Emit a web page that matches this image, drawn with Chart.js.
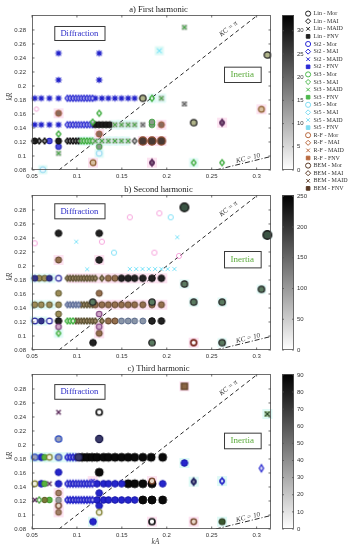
<!DOCTYPE html>
<html><head><meta charset="utf-8">
<script src="https://cdn.jsdelivr.net/npm/chart.js@4.4.0/dist/chart.umd.min.js"></script>
<style>
html,body{margin:0;padding:0;background:#fff;width:357px;height:550px;overflow:hidden;position:relative}
canvas{position:absolute;display:block}
</style></head><body>
<canvas id="pa" width="280" height="180" style="left:0;top:0;width:280px;height:180px"></canvas>
<canvas id="pb" width="280" height="180" style="left:0;top:180px;width:280px;height:180px"></canvas>
<canvas id="pc" width="280" height="190" style="left:0;top:360px;width:280px;height:190px"></canvas>
<canvas id="ca" width="36" height="180" style="left:276px;top:0;width:36px;height:180px"></canvas>
<canvas id="cb" width="36" height="180" style="left:276px;top:180px;width:36px;height:180px"></canvas>
<canvas id="cc" width="36" height="190" style="left:276px;top:360px;width:36px;height:190px"></canvas>
<canvas id="lg" width="57" height="200" style="left:300px;top:0;width:57px;height:200px"></canvas>
<script>
// ---------------- DATA ----------------
const panelTitles = ['a) First harmonic', 'b) Second harmonic', 'c) Third harmonic'];
const methods = ['Lin', 'St2', 'St3', 'St5', 'R-F', 'BEM'];
const measures = ['Mor', 'MAI', 'MAID', 'FNV'];
const xTickValues = [0.05, 0.1, 0.15, 0.2, 0.25, 0.3];
const yTickValues = [0.08, 0.1, 0.12, 0.14, 0.16, 0.18, 0.2, 0.22, 0.24, 0.26, 0.28];
const colorbarMax = [33.4, 252, 90.5];
const colorbarTicksA = [0, 5, 10, 15, 20, 25, 30];
const colorbarTicksB = [0, 50, 100, 150, 200, 250];
const colorbarTicksC = [0, 10, 20, 30, 40, 50, 60, 70, 80, 90];
const kcPiLine = [[0.08, 0.08], [0.3014, 0.3014]];
const kc10Line = [[0.2546, 0.08], [0.316, 0.0993]];

// kR rows of the test matrix and kA columns
const R1 = 0.1215, R2 = 0.1447, R3 = 0.1824;
const xLeft = [0.053, 0.0603, 0.0694, 0.0795];
const xDense = [0.0894, 0.0925, 0.0956, 0.0987, 0.1018, 0.1049, 0.108, 0.1111, 0.1142, 0.1173];
const xMid = [0.1205, 0.1277, 0.135, 0.1423, 0.1496, 0.157, 0.1642];
const xRight = [0.1733, 0.1835, 0.194];
const row = (xs, y) => xs.map(x => [x, y]);

// a) first harmonic
const A_st2Star = [...row(xLeft, R3), ...row(xMid, R3), ...row(xLeft, R2), [0.0795, 0.2467], [0.1248, 0.2467], [0.0795, 0.2086], [0.1248, 0.2086]];
const A_st2Theta = [...row(xDense, R3), ...row(xDense, R2)];
const A_st2Dot = [[0.0694, R1], [0.0795, 0.1133]];
const A_linTheta = row([0.058, 0.064, 0.0894, 0.0925, 0.0956, 0.0987, 0.1018], R1);
const A_linDot = [[0.053, R1], [0.0795, R1], ...row([0.1205, 0.1245, 0.1285, 0.1325, 0.1365], R2)];
const A_st3Theta = [...row([0.1049, 0.108, 0.1111, 0.1142, 0.1173], R1), [0.1835, R3], [0.1248, 0.161], [0.0795, 0.1314], [0.1175, 0.1484], [0.2299, 0.0905], [0.2616, 0.0905]];
const A_st3X = [...row([0.1205, 0.1277, 0.135, 0.1423, 0.1496, 0.157], R1), ...row([0.1423, 0.1496, 0.157, 0.1642], R2), [0.194, R3], [0.2196, 0.2838], [0.0795, 0.1038]];
const A_st3Dot = [[0.1835, R2], [0.1248, 0.1133], [0.1835, 0.1484]];
const A_grayX = [[0.1733, R2], [0.2196, 0.1743]];
const A_grayTheta = [[0.1642, R1]];
const A_darkRing = [[0.1733, R3], [0.3119, 0.2443], [0.2299, 0.1476]];
const A_rfBig = row(xRight, R1);
const A_rfDot = [[0.194, R2], [0.0795, 0.161], [0.1248, 0.1314]];
const A_rfRing = [[0.1179, 0.0905], [0.3053, 0.1667]];
const A_bemTheta = [[0.2616, 0.1476], [0.1835, 0.0905]];
const A_st5X = [[0.1917, 0.2504]];
const A_st5Ring = [[0.1248, 0.1038], [0.062, 0.0805]];
const A_faintPink = [[0.055, 0.167]];
const A_pinkHalo = [[0.0795, 0.161], [0.1248, 0.1314], ...row(xRight, R1), [0.194, R2], [0.1179, 0.0905], [0.1835, 0.0905], [0.3053, 0.1667], [0.2616, 0.1476]];
const A_cyanHalo = [[0.1248, 0.1038], [0.2299, 0.0905], [0.1917, 0.2504], [0.062, 0.0805], ...row([0.105, 0.112, 0.119, 0.126, 0.133, 0.14, 0.147, 0.154], R1), ...row([0.1423, 0.1496, 0.157, 0.1642], R2), ...row([0.1835, 0.194], R3)];

// b) second harmonic
const B_oliveDot = [...row([0.058, 0.064], R3), ...row([0.053, 0.0603, 0.0694, 0.0795], R2), [0.0795, 0.161], [0.0795, 0.1314]];
const B_blueRing = [[0.0795, R3], [0.053, R1], [0.0694, R1]];
const B_blueDot = [[0.053, R3], [0.0694, R3], [0.0603, R1]];
const B_oliveTheta = [...row(xDense, R3), ...row([0.1205, 0.1277], R3), ...row([0.1049, 0.108, 0.1111, 0.1142, 0.1173], R2), ...row([0.0987, 0.1018, 0.1049, 0.108, 0.1111, 0.1142, 0.1173, 0.1205, 0.1277], R1)];
const B_grayBlueTheta = row([0.0894, 0.0925, 0.0956, 0.0987, 0.1018], R2);
const B_greenTheta = [...row([0.0894, 0.0925, 0.0956], R1), [0.0795, 0.1038]];
const B_brownDot = [...row([0.135, 0.1423], R3), ...row(xMid, R2), ...row(xRight, R2), ...row([0.135, 0.1423], R1), [0.0795, 0.2086], [0.1248, 0.161], [0.1248, 0.1038]];
const B_darkDot = [...row([0.1496, 0.157, 0.1642], R3), ...row(xRight, R3), [0.0795, 0.2467], [0.1248, 0.2467], [0.1835, R1], [0.194, R1], [0.0795, R1], [0.1248, 0.2086], [0.1179, 0.0905]];
const B_grayBlueDot = row([0.1496, 0.157, 0.1642, 0.1733], R1);
const B_darkRingBig = [[0.2196, 0.2838], [0.3119, 0.2443]];
const B_darkRing = [[0.2196, 0.1743], [0.2299, 0.1484], [0.2616, 0.1484], [0.3053, 0.1667], [0.2616, 0.0905], [0.1835, 0.0905], [0.1835, 0.1484], [0.1175, 0.1484]];
const B_redRing = [[0.2299, 0.0905]];
const B_mauveRing = [[0.1248, 0.1314], [0.1248, 0.1133], [0.0795, 0.1133]];
const B_faintX = [...row([0.1589, 0.166, 0.173, 0.18, 0.187, 0.194, 0.201, 0.2085], 0.1957), [0.2117, 0.241], [0.0993, 0.2347], [0.1114, 0.1953]];
const B_faintCyanO = [[0.2044, 0.2696], [0.1413, 0.219]];
const B_faintPinkO = [[0.1917, 0.2753], [0.1589, 0.2696], [0.1278, 0.2347], [0.1862, 0.219], [0.2136, 0.2143], [0.053, 0.2324]];
const B_pinkHalo = [...row([0.095, 0.105, 0.115, 0.125, 0.135, 0.145, 0.155, 0.165, 0.175, 0.185, 0.195], R3), ...row([0.125, 0.135, 0.145, 0.155, 0.165, 0.175, 0.185, 0.195], R2), [0.0795, 0.2086], [0.1248, 0.2086], [0.1248, 0.1133], [0.1248, 0.1038], [0.2299, 0.0905]];
const B_cyanHalo = [...row([0.053, 0.062, 0.071], R3), ...row([0.053, 0.062, 0.071], R2), ...row([0.053, 0.062], R1), [0.0795, 0.1038], [0.2196, 0.1743], [0.2299, 0.1484], [0.2616, 0.1484], [0.3053, 0.1667], [0.2616, 0.0905], [0.3119, 0.2443]];

// c) third harmonic
const C_blackDot = [...row([0.1059, 0.1114, 0.1169, 0.1223, 0.1296, 0.1351, 0.1424, 0.1497, 0.157, 0.1643, 0.1734, 0.1826, 0.1954], R3), ...row([0.157, 0.1643, 0.1734, 0.1835], R2), ...row([0.1734, 0.1835, 0.1954], R1), [0.1248, 0.161]];
const C_blueDot = [...row([0.1223, 0.1296, 0.1351, 0.1424, 0.1497], R2), [0.1954, R2], ...row([0.1223, 0.1296, 0.1351, 0.1424, 0.1497, 0.157, 0.1643], R1), [0.0795, 0.161], [0.1248, 0.1314], [0.0603, R3], [0.0603, R2], [0.0795, R2], [0.1179, 0.0905], [0.2196, 0.1743], [0.1248, 0.1133]];
const C_blueTheta = [...row(xDense, R2), ...row(xDense, R1), ...row([0.0894, 0.0925, 0.0956, 0.0987], R3), [0.2616, 0.1484]];
const C_navyDot = [[0.1248, 0.2086], [0.1018, R3]];
const C_blueDiamond = [[0.3053, 0.1667]];
const C_blueRing = [[0.053, R3], [0.0795, R3], [0.0795, 0.2086]];
const C_greenDot = [[0.064, R3], [0.064, R2], [0.0694, R1]];
const C_oliveRing = [[0.0694, R3], [0.053, R2], [0.1248, 0.1038]];
const C_oliveDot = [[0.064, R1]];
const C_greenTheta = [[0.058, R1]];
const C_purpleX = [[0.0795, 0.2467], [0.0694, R2], [0.053, R1]];
const C_blueX = [[0.1175, 0.1484]];
const C_darkRingWhite = [[0.1248, 0.2467], [0.1835, 0.0905]];
const C_navyTheta = [[0.2299, 0.1476]];
const C_brownDot = [[0.0795, 0.1314], [0.0795, 0.1038]];
const C_brownRing = [[0.0795, 0.1133], [0.2299, 0.0905], [0.1835, 0.1484]];
const C_brownSq = [[0.2196, 0.2838]];
const C_greenX = [[0.3119, 0.2443]];
const C_darkGreenDot = [[0.2616, 0.0905]];
const C_grayDot = [[0.0795, R1]];
const C_cyanHalo = [...row([0.053, 0.061, 0.069, 0.077, 0.085, 0.093], R3), [0.2196, 0.1743], [0.2616, 0.1484], [0.3119, 0.2443], [0.2616, 0.0905], [0.1179, 0.0905], [0.2299, 0.1476]];
const C_pinkHalo = [[0.0795, 0.1314], [0.0795, 0.1133], [0.0795, 0.1038], [0.2196, 0.2838], [0.2299, 0.0905], [0.1835, 0.1484], [0.1835, 0.0905], [0.1175, 0.1484]];

// ---------------- STYLE / DRAWING ----------------
const SANS = '"Liberation Sans", Arial, sans-serif';
const SERIF = '"Liberation Serif", "Times New Roman", serif';
const methodColors = {'Lin': '#222222', 'St2': '#2a2ad6', 'St3': '#4cb84c', 'St5': '#7fdcf2', 'R-F': '#b8683e', 'BEM': '#5a3a26'};

function glyph(kind, edge, fill, r, lw) {
  lw = lw == null ? 1 : lw;
  const s = 2 * Math.ceil(r * 1.3 + lw + 1);
  const c = document.createElement('canvas');
  c.width = s; c.height = s;
  const g = c.getContext('2d');
  const m = s / 2;
  g.lineWidth = lw; g.strokeStyle = edge; g.fillStyle = fill || 'rgba(0,0,0,0)';
  const circ = (rr) => { g.beginPath(); g.arc(m, m, rr, 0, 2 * Math.PI); g.fill(); g.stroke(); };
  const diam = (w, h, doFill) => { g.beginPath(); g.moveTo(m, m - h); g.lineTo(m + w, m); g.lineTo(m, m + h); g.lineTo(m - w, m); g.closePath(); if (doFill) g.fill(); g.stroke(); };
  const cross = (rr) => { g.beginPath(); g.moveTo(m - rr, m - rr); g.lineTo(m + rr, m + rr); g.moveTo(m + rr, m - rr); g.lineTo(m - rr, m + rr); g.stroke(); };
  if (kind === 'o' || kind === 'dot') circ(r);
  else if (kind === 'd') diam(r * 0.8, r * 1.3, true);
  else if (kind === 'theta') { circ(r * 0.8); diam(r * 0.72, r * 1.25, false); }
  else if (kind === 'x') { if (fill) { g.fillRect(m - r, m - r, 2 * r, 2 * r); } cross(r * 0.8); }
  else if (kind === 'star') {
    g.beginPath(); g.arc(m, m, r * 0.55, 0, 2 * Math.PI); g.fillStyle = fill; g.fill();
    cross(r * 0.75);
    g.beginPath(); g.moveTo(m, m - r); g.lineTo(m, m + r); g.moveTo(m - r, m); g.lineTo(m + r, m); g.stroke();
  }
  else if (kind === 'sq') { g.fillStyle = fill; g.fillRect(m - r, m - r, 2 * r, 2 * r); if (edge !== 'none') { g.strokeRect(m - r, m - r, 2 * r, 2 * r); } }
  return c;
}

const PINK = '#fde3f1', CYAN = '#defaf6';
const groupsA = [
  [A_st2Star, glyph('star', '#1c1cc8', '#2a2ad6', 3.3, 1.1)],
  [A_st2Theta, glyph('theta', '#2a2ad0', 'rgba(215,215,245,0.7)', 2.8, 1)],
  [A_st2Dot, glyph('dot', '#1a1ab0', '#4a4adc', 2.9, 1)],
  [A_linTheta, glyph('theta', '#111', '#8a8a8a', 2.8, 1)],
  [A_linDot, glyph('dot', '#111', '#1c1c1c', 3.1, 1)],
  [A_st3Theta, glyph('theta', '#3cab3c', 'rgba(215,235,215,0.7)', 2.8, 1)],
  [A_st3X, glyph('x', '#48a848', '#c4c4c4', 2.7, 1.1)],
  [A_st3Dot, glyph('dot', '#3c9c3c', '#8a9a8a', 2.9, 1)],
  [A_grayX, glyph('x', '#6a6a6a', '#b4b4b4', 2.7, 1.1)],
  [A_grayTheta, glyph('theta', '#555', '#bbb', 2.8, 1)],
  [A_darkRing, glyph('dot', '#222', '#b0b48a', 3.2, 1.3)],
  [A_rfBig, glyph('dot', '#8a4a2a', '#4a3a34', 4.1, 1.2)],
  [A_rfDot, glyph('dot', '#a0583a', '#8a6a5a', 3.1, 1)],
  [A_rfRing, glyph('o', '#8a5a2a', '#d8c0a0', 2.9, 1.2)],
  [A_bemTheta, glyph('theta', '#5a2a5a', '#7a5a7a', 2.9, 1.1)],
  [A_st5X, glyph('x', '#7fe4f8', null, 3, 1.2)],
  [A_st5Ring, glyph('o', '#8ad4f0', '#eef9ff', 2.9, 1)],
  [A_faintPink, glyph('o', '#f2a8d8', null, 2.2, 1)],
  [A_pinkHalo, glyph('sq', 'none', PINK, 5), 300],
  [A_cyanHalo, glyph('sq', 'none', CYAN, 4.5), 301],
];
const groupsB = [
  [B_oliveDot, glyph('dot', '#5a5428', '#9c8c58', 3, 1)],
  [B_blueRing, glyph('o', '#2a2aa0', '#f4f4ff', 2.9, 1.2)],
  [B_blueDot, glyph('dot', '#1a1a70', '#34348a', 3, 1)],
  [B_oliveTheta, glyph('theta', '#5a5030', '#a08c6a', 2.8, 1)],
  [B_grayBlueTheta, glyph('theta', '#5a6a96', '#a4acc4', 2.8, 1)],
  [B_greenTheta, glyph('theta', '#40b040', '#cfe8c8', 2.8, 1)],
  [B_brownDot, glyph('dot', '#5e4028', '#94704e', 3.1, 1)],
  [B_darkDot, glyph('dot', '#0c0c0c', '#222', 3.3, 1)],
  [B_grayBlueDot, glyph('dot', '#5a6a8a', '#8a96a8', 3, 1)],
  [B_darkRingBig, glyph('dot', '#1a1a1a', '#3a5444', 4.3, 1.4)],
  [B_darkRing, glyph('dot', '#222', '#5a7a60', 3.2, 1.3)],
  [B_redRing, glyph('o', '#701a10', '#fff', 2.9, 1.6)],
  [B_mauveRing, glyph('o', '#7a3a7a', '#cfa8c8', 2.8, 1.1)],
  [B_faintX, glyph('x', 'rgba(110,225,248,0.85)', null, 2.6, 1)],
  [B_faintCyanO, glyph('o', 'rgba(110,220,245,0.85)', null, 2.6, 1)],
  [B_faintPinkO, glyph('o', 'rgba(245,150,215,0.85)', null, 2.6, 1)],
  [B_pinkHalo, glyph('sq', 'none', PINK, 5), 300],
  [B_cyanHalo, glyph('sq', 'none', CYAN, 4.5), 301],
];
const groupsC = [
  [C_blackDot, glyph('dot', '#050505', '#0a0a0a', 4, 1)],
  [C_blueDot, glyph('dot', '#1414a8', '#2626cc', 3.3, 1)],
  [C_blueTheta, glyph('theta', '#2424c8', 'rgba(200,200,240,0.6)', 2.9, 1.1)],
  [C_navyDot, glyph('dot', '#1a1a4a', '#3a3a6a', 3.6, 1.2)],
  [C_blueDiamond, glyph('d', '#2a2ad0', '#d8d8f4', 2.8, 1.2)],
  [C_blueRing, glyph('dot', '#2a4ac0', '#9aa0b8', 3.2, 1.3)],
  [C_greenDot, glyph('dot', '#3a9a2a', '#5ab040', 2.9, 1)],
  [C_oliveRing, glyph('o', '#7a7a2a', '#f0f0e0', 2.8, 1.2)],
  [C_oliveDot, glyph('dot', '#5a5a20', '#7a7a3a', 2.8, 1)],
  [C_greenTheta, glyph('theta', '#4aa040', '#eef6ea', 2.9, 1)],
  [C_purpleX, glyph('x', '#5a2a5a', null, 2.8, 1.3)],
  [C_blueX, glyph('x', '#3a3ad0', null, 2.5, 1.1)],
  [C_darkRingWhite, glyph('o', '#1c1c1c', '#fff', 3, 1.7)],
  [C_navyTheta, glyph('theta', '#1a1a5a', '#7a7a9a', 3, 1.2)],
  [C_brownDot, glyph('dot', '#7a5030', '#a08068', 2.9, 1)],
  [C_brownRing, glyph('o', '#6a3a20', '#e8d8c8', 2.8, 1.3)],
  [C_brownSq, glyph('sq', '#5a3a20', '#8a6444', 3.1, 1.2)],
  [C_greenX, glyph('x', '#2a4a2a', '#a8c8a0', 3, 1.3)],
  [C_darkGreenDot, glyph('dot', '#2a3a20', '#3a5a30', 3, 1.2)],
  [C_grayDot, glyph('dot', '#777', '#9a9a9a', 2.9, 1)],
  [C_cyanHalo, glyph('sq', 'none', CYAN, 5), 300],
  [C_pinkHalo, glyph('sq', 'none', PINK, 5), 301],
];

const panels = [
  {id: 'pa', cb: 'ca', cbTicks: colorbarTicksA, padTop: 15, xH: 10, groups: groupsA, title: panelTitles[0], diff: [0.0748, 0.2857, 0.1307, 0.2657], iner: [0.2637, 0.2276, 0.3045, 0.2057], xTitle: false},
  {id: 'pb', cb: 'cb', cbTicks: colorbarTicksB, padTop: 15, xH: 10, groups: groupsB, title: panelTitles[1], diff: [0.0748, 0.2896, 0.1307, 0.2681], iner: [0.2637, 0.2214, 0.3045, 0.198], xTitle: false},
  {id: 'pc', cb: 'cc', cbTicks: colorbarTicksC, padTop: 14, xH: 21, groups: groupsC, title: panelTitles[2], diff: [0.0748, 0.287, 0.1307, 0.266], iner: [0.2637, 0.2176, 0.3045, 0.1953], xTitle: true},
];
const kcPiLabelAt = [0.2685, 0.2815];
const kc10LabelAt = [0.2905, 0.0968];

const fmt = v => String(Math.round(v * 100) / 100);

function decoPlugin(p) {
  return {
    id: 'deco',
    afterDraw(chart) {
      const {ctx, chartArea: a, scales: {x, y}} = chart;
      ctx.save();
      ctx.strokeStyle = '#4a4a4a'; ctx.lineWidth = 0.8;
      ctx.strokeRect(a.left + 0.5, a.top + 0.5, a.right - a.left - 1, a.bottom - a.top - 1);
      ctx.beginPath();
      xTickValues.forEach(v => { const px = x.getPixelForValue(v); ctx.moveTo(px, a.bottom); ctx.lineTo(px, a.bottom - 2.5); ctx.moveTo(px, a.top); ctx.lineTo(px, a.top + 2.5); });
      yTickValues.forEach(v => { const py = y.getPixelForValue(v); ctx.moveTo(a.left, py); ctx.lineTo(a.left + 2.5, py); ctx.moveTo(a.right, py); ctx.lineTo(a.right - 2.5, py); });
      ctx.stroke();
      const box = (b, text, color, size) => {
        const x0 = x.getPixelForValue(b[0]), y0 = y.getPixelForValue(b[1]), x1 = x.getPixelForValue(b[2]), y1 = y.getPixelForValue(b[3]);
        ctx.fillStyle = '#fff'; ctx.fillRect(x0, y0, x1 - x0, y1 - y0);
        ctx.strokeStyle = '#3a3a3a'; ctx.lineWidth = 1; ctx.strokeRect(x0 + 0.5, y0 + 0.5, x1 - x0, y1 - y0);
        ctx.fillStyle = color; ctx.font = size + 'px ' + SERIF; ctx.textAlign = 'center'; ctx.textBaseline = 'middle';
        ctx.fillText(text, (x0 + x1) / 2, (y0 + y1) / 2 + 0.5);
      };
      box(p.diff, 'Diffraction', '#2a2ac8', 8.6);
      box(p.iner, 'Inertia', '#5aaa3a', 9);
      const label = (pos, line, text) => {
        const ang = Math.atan2(y.getPixelForValue(line[1][1]) - y.getPixelForValue(line[0][1]), x.getPixelForValue(line[1][0]) - x.getPixelForValue(line[0][0]));
        ctx.save();
        ctx.translate(x.getPixelForValue(pos[0]), y.getPixelForValue(pos[1]));
        ctx.rotate(ang);
        ctx.fillStyle = '#333'; ctx.font = 'italic 7px ' + SERIF; ctx.textAlign = 'center'; ctx.textBaseline = 'middle';
        ctx.fillText(text, 0, 0);
        ctx.restore();
      };
      label(kcPiLabelAt, kcPiLine, 'KC = π');
      label(kc10LabelAt, kc10Line, 'KC = 10');
      ctx.fillStyle = '#222'; ctx.font = '8.5px ' + SERIF; ctx.textAlign = 'center'; ctx.textBaseline = 'middle';
      ctx.fillText(p.title, (a.left + a.right) / 2 + 7, a.top - 5);
      ctx.fillStyle = '#444'; ctx.font = 'italic 7.5px ' + SERIF;
      ctx.save(); ctx.translate(10, (a.top + a.bottom) / 2 + 4); ctx.rotate(-Math.PI / 2); ctx.fillText('kR', 0, 0); ctx.restore();
      if (p.xTitle) { ctx.fillText('kA', (a.left + a.right) / 2 + 4, a.bottom + 13); }
      ctx.restore();
    }
  };
}

function makePanel(p) {
  const datasets = [
    {type: 'line', data: kcPiLine.map(q => ({x: q[0], y: q[1]})), borderColor: '#2a2a2a', borderWidth: 1, borderDash: [4, 3], pointRadius: 0, order: 200, fill: false},
    {type: 'line', data: kc10Line.map(q => ({x: q[0], y: q[1]})), borderColor: '#2a2a2a', borderWidth: 1, borderDash: [5, 2, 1, 2], pointRadius: 0, order: 201, fill: false},
  ];
  p.groups.forEach((g, i) => {
    const gl = g[1];
    datasets.push({type: 'scatter', data: g[0].map(q => ({x: q[0], y: q[1]})), pointStyle: gl, pointRadius: gl.width / 2, pointHoverRadius: gl.width / 2, borderWidth: 0, order: g[2] != null ? g[2] : 100 - i, clip: 8});
  });
  new Chart(document.getElementById(p.id), {
    type: 'scatter',
    data: {datasets},
    options: {
      responsive: false, animation: false, events: [],
      layout: {padding: {left: 0, right: 5, top: p.padTop, bottom: 0}},
      plugins: {legend: {display: false}, tooltip: {enabled: false}},
      scales: {
        x: {type: 'linear', min: 0.05, max: 0.316,
          afterBuildTicks: s => { s.ticks = xTickValues.map(v => ({value: v})); },
          ticks: {font: {family: SANS, size: 6}, color: '#333', padding: 3, maxRotation: 0, autoSkip: false, callback: v => fmt(v)},
          grid: {display: false, drawTicks: false}, border: {display: false},
          afterFit: s => { s.height = p.xH; }},
        y: {type: 'linear', min: 0.08, max: 0.3014,
          afterBuildTicks: s => { s.ticks = yTickValues.map(v => ({value: v})); },
          ticks: {font: {family: SANS, size: 6}, color: '#333', padding: 6, autoSkip: false, callback: v => fmt(v)},
          grid: {display: false, drawTicks: false}, border: {display: false},
          afterFit: s => { s.width = 32; }}
      }
    },
    plugins: [decoPlugin(p)]
  });
}

function makeColorbar(p, i) {
  const max = colorbarMax[i];
  new Chart(document.getElementById(p.cb), {
    type: 'bar',
    data: {labels: [''], datasets: [{data: [[0, max]], barPercentage: 1, categoryPercentage: 1, borderWidth: 0,
      backgroundColor: c => { const a = c.chart.chartArea; if (!a) return '#888'; const gr = c.chart.ctx.createLinearGradient(0, a.bottom, 0, a.top); gr.addColorStop(0, '#ffffff'); gr.addColorStop(1, '#000000'); return gr; }}]},
    options: {
      responsive: false, animation: false, events: [],
      layout: {padding: {left: 6, right: 0, top: p.padTop, bottom: p.xH}},
      plugins: {legend: {display: false}, tooltip: {enabled: false}},
      scales: {
        x: {display: false},
        y: {position: 'right', min: 0, max: max,
          afterBuildTicks: s => { s.ticks = p.cbTicks.map(v => ({value: v})); },
          ticks: {autoSkip: false, font: {family: SANS, size: 6}, color: '#333', padding: 3},
          grid: {display: false, drawTicks: false}, border: {display: false}, afterFit: s => { s.width = 18; }}
      }
    },
    plugins: [{id: 'cbbox', afterDraw(chart) {
      const {ctx, chartArea: a, scales: {y}} = chart;
      ctx.save(); ctx.strokeStyle = '#555'; ctx.lineWidth = 0.8;
      ctx.strokeRect(a.left + 0.5, a.top + 0.5, a.right - a.left - 1, a.bottom - a.top - 1);
      ctx.beginPath();
      p.cbTicks.forEach(v => { const py = y.getPixelForValue(v); ctx.moveTo(a.right, py); ctx.lineTo(a.right - 2, py); ctx.moveTo(a.left, py); ctx.lineTo(a.left + 2, py); });
      ctx.stroke(); ctx.restore();
    }}]
  });
}

panels.forEach((p, i) => { makePanel(p); makeColorbar(p, i); });

// legend
const legendStyles = {'Mor': 'circle', 'MAI': 'rectRot', 'MAID': 'crossRot', 'FNV': 'rect'};
const legendSets = [];
methods.forEach(m => measures.forEach(q => {
  const col = methodColors[m];
  legendSets.push({label: m + ' - ' + q, data: [], pointStyle: legendStyles[q], borderColor: col,
    backgroundColor: q === 'FNV' ? col : 'rgba(0,0,0,0)', borderWidth: 1});
}));
new Chart(document.getElementById('lg'), {
  type: 'scatter',
  data: {datasets: legendSets},
  options: {
    responsive: false, animation: false, events: [],
    layout: {padding: {left: 4, top: 9, right: 0, bottom: 0}},
    scales: {x: {display: false}, y: {display: false}},
    plugins: {tooltip: {enabled: false},
      legend: {display: true, position: 'left', align: 'start', maxWidth: 60,
        labels: {usePointStyle: true, boxWidth: 5, boxHeight: 3.6, padding: 1.6, font: {family: SERIF, size: 6}, color: '#333'}}}
  }
});
</script>
</body></html>
